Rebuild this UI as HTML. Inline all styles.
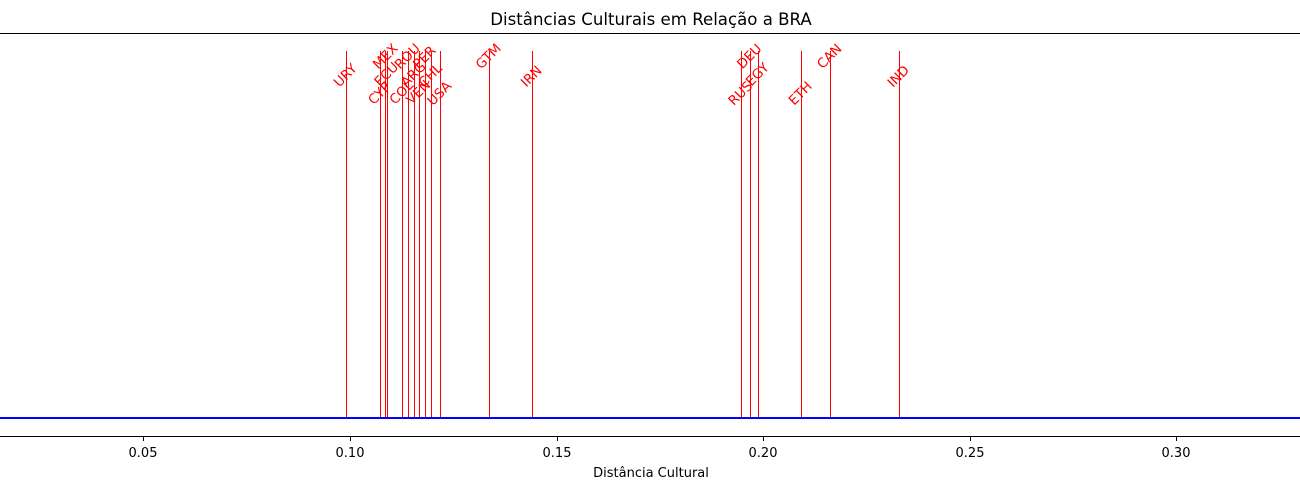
<!DOCTYPE html>
<html><head><style>body{margin:0;background:#fff}svg{display:block}text{font-family:"DejaVu Sans","Liberation Sans",sans-serif}</style></head>
<body>
<svg width="1300" height="490" xmlns="http://www.w3.org/2000/svg">
<text x="651" y="25" font-size="16.6" text-anchor="middle" fill="#000">Distâncias Culturais em Relação a BRA</text>
<line x1="0" y1="33.5" x2="1300" y2="33.5" stroke="#000" stroke-width="1"/>
<line x1="0" y1="436.5" x2="1300" y2="436.5" stroke="#000" stroke-width="1"/>
<g stroke="#000" stroke-width="1">
<line x1="143.5" y1="437" x2="143.5" y2="441"/><line x1="350.5" y1="437" x2="350.5" y2="441"/><line x1="557.5" y1="437" x2="557.5" y2="441"/><line x1="763.5" y1="437" x2="763.5" y2="441"/><line x1="970.5" y1="437" x2="970.5" y2="441"/><line x1="1176.5" y1="437" x2="1176.5" y2="441"/>
</g>
<g font-size="13" text-anchor="middle" fill="#000">
<text x="143" y="457">0.05</text><text x="350" y="457">0.10</text><text x="557" y="457">0.15</text><text x="763" y="457">0.20</text><text x="970" y="457">0.25</text><text x="1176" y="457">0.30</text>
<text x="651" y="477">Distância Cultural</text>
</g>
<g stroke="red" stroke-width="1">
<line x1="346.5" y1="51" x2="346.5" y2="418"/><line x1="380.5" y1="51" x2="380.5" y2="418"/><line x1="385.5" y1="51" x2="385.5" y2="418"/><line x1="387.5" y1="51" x2="387.5" y2="418"/><line x1="402.5" y1="51" x2="402.5" y2="418"/><line x1="408.5" y1="51" x2="408.5" y2="418"/><line x1="414.5" y1="51" x2="414.5" y2="418"/><line x1="419.5" y1="51" x2="419.5" y2="418"/><line x1="425.5" y1="51" x2="425.5" y2="418"/><line x1="431.5" y1="51" x2="431.5" y2="418"/><line x1="440.5" y1="51" x2="440.5" y2="418"/><line x1="489.5" y1="51" x2="489.5" y2="418"/><line x1="532.5" y1="51" x2="532.5" y2="418"/><line x1="741.5" y1="51" x2="741.5" y2="418"/><line x1="750.5" y1="51" x2="750.5" y2="418"/><line x1="758.5" y1="51" x2="758.5" y2="418"/><line x1="801.5" y1="51" x2="801.5" y2="418"/><line x1="830.5" y1="51" x2="830.5" y2="418"/><line x1="899.5" y1="51" x2="899.5" y2="418"/>
</g>
<line x1="0" y1="418" x2="1300" y2="418" stroke="#0000ff" stroke-width="2"/>
<g font-size="13.3" fill="red" text-anchor="middle" dominant-baseline="central">
<text transform="translate(346,76) rotate(-45)">URY</text>
<text transform="translate(380,94) rotate(-45)">CYP</text>
<text transform="translate(386,57) rotate(-45)">MEX</text>
<text transform="translate(387,75) rotate(-45)">ECU</text>
<text transform="translate(402,93) rotate(-45)">COL</text>
<text transform="translate(408,57) rotate(-45)">ROU</text>
<text transform="translate(414,75) rotate(-45)">ARG</text>
<text transform="translate(419,93) rotate(-45)">VEN</text>
<text transform="translate(425,58) rotate(-45)">PER</text>
<text transform="translate(431,76) rotate(-45)">CHL</text>
<text transform="translate(440,94) rotate(-45)">USA</text>
<text transform="translate(489,57) rotate(-45)">GTM</text>
<text transform="translate(532,77) rotate(-45)">IRN</text>
<text transform="translate(741,94) rotate(-45)">RUS</text>
<text transform="translate(750,57) rotate(-45)">DEU</text>
<text transform="translate(758,75) rotate(-45)">EGY</text>
<text transform="translate(801,94) rotate(-45)">ETH</text>
<text transform="translate(830,57) rotate(-45)">CAN</text>
<text transform="translate(899,77) rotate(-45)">IND</text>
</g>
</svg>
</body></html>
